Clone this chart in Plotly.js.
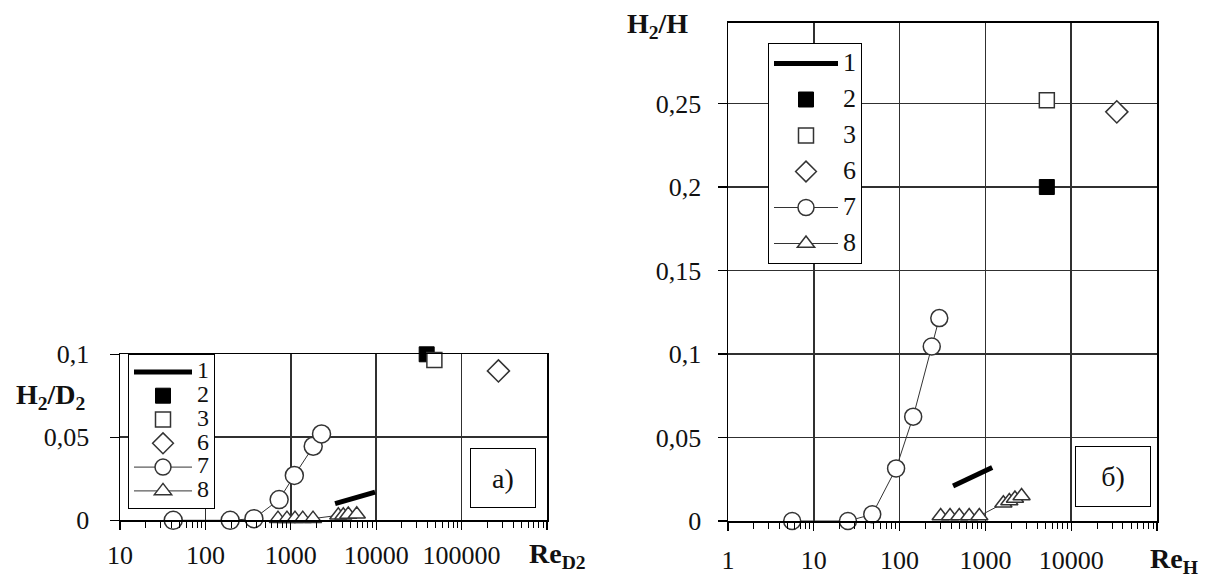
<!DOCTYPE html>
<html><head><meta charset="utf-8">
<script src="https://cdn.plot.ly/plotly-3.0.1.min.js"></script>
<style>html,body{margin:0;padding:0;background:#fff}#chart{width:1205px;height:581px}</style>
</head><body><div id="chart"></div>
<script>
// ---------- Panel a): H2/D2 vs Re_D2 ----------
const a_s1_x = [3300, 9700];
const a_s1_y = [0.010, 0.017];
const a_s2_x = [39000];
const a_s2_y = [0.1];
const a_s3_x = [48000];
const a_s3_y = [0.0966];
const a_s6_x = [270000];
const a_s6_y = [0.090];
const a_s7_x = [42, 195, 370, 730, 1100, 1830, 2290];
const a_s7_y = [0, 0, 0.001, 0.0125, 0.027, 0.0446, 0.052];
const a_s8_x = [708, 902, 1120, 1380, 1820, 3600, 4120, 4710, 5920];
const a_s8_y = [0.001, 0.001, 0.001, 0.001, 0.001, 0.003, 0.003, 0.0035, 0.0036];

// ---------- Panel б): H2/H vs Re_H ----------
const b_s1_x = [420, 1200];
const b_s1_y = [0.021, 0.032];
const b_s2_x = [5200];
const b_s2_y = [0.2];
const b_s3_x = [5200];
const b_s3_y = [0.252];
const b_s6_x = [34000];
const b_s6_y = [0.245];
const b_s7_x = [5.6, 25, 48, 91, 144, 237, 290];
const b_s7_y = [0, 0, 0.004, 0.0315, 0.0625, 0.1045, 0.1215];
const b_s8_x = [301, 387, 496, 647, 849, 1620, 1900, 2210, 2640];
const b_s8_y = [0.003, 0.003, 0.003, 0.003, 0.003, 0.0106, 0.012, 0.0135, 0.015];

// ---------- Ticks ----------
const a_xtickvals = [10, 100, 1000, 10000, 100000, 1000000];
const a_xticktext = ['10', '100', '1000', '10000', '100000', ''];
const a_ytickvals = [0, 0.05, 0.1];
const a_yticktext = ['0', '0,05', '0,1'];
const b_xtickvals = [1, 10, 100, 1000, 10000, 100000];
const b_xticktext = ['1', '10', '100', '1000', '10000', ''];
const b_ytickvals = [0, 0.05, 0.1, 0.15, 0.2, 0.25];
const b_yticktext = ['0', '0,05', '0,1', '0,15', '0,2', '0,25'];
const legendNames = ['1', '2', '3', '6', '7', '8'];

function minorVals(majors){
  const out=[];
  for(let i=0;i<majors.length-1;i++){for(let k=2;k<=9;k++){out.push(majors[i]*k);}}
  return out;
}

const W=1205, H=581;
const serif = '"Liberation Serif", serif';
const ink = '#111';
const grey = '#333';

function traces(s, xa, ya, leg, circ, nameSize){
  const o = {xaxis:xa, yaxis:ya, legend:leg, type:'scatter', cliponaxis:false};
  const nm = i => '<span style="font-size:'+nameSize+'px">'+legendNames[i]+'</span>';
  return [
    Object.assign({}, o, {x:s.s1x, y:s.s1y, mode:'lines', name:nm(0), legendgroup:leg+'1',
      line:{color:'#000', width:5}}),
    Object.assign({}, o, {x:s.s2x, y:s.s2y, mode:'markers', name:nm(1), legendgroup:leg+'2',
      marker:{symbol:'square', size:15, color:'#000', line:{color:'#000', width:1}}}),
    Object.assign({}, o, {x:s.s3x, y:s.s3y, mode:'markers', name:nm(2), legendgroup:leg+'3',
      marker:{symbol:'square', size:15, color:'#fff', line:{color:grey, width:1.5}}}),
    Object.assign({}, o, {x:s.s6x, y:s.s6y, mode:'markers', name:nm(3), legendgroup:leg+'6',
      marker:{symbol:'diamond', size:17, color:'#fff', line:{color:grey, width:1.5}}}),
    Object.assign({}, o, {x:s.s7x, y:s.s7y, mode:'lines+markers', name:nm(4), legendgroup:leg+'7',
      line:{color:grey, width:1}, marker:{symbol:'circle', size:circ, color:'#fff', line:{color:grey, width:1.5}}}),
    Object.assign({}, o, {x:s.s8x, y:s.s8y, mode:'lines+markers', name:nm(5), legendgroup:leg+'8',
      line:{color:grey, width:1}, marker:{symbol:'triangle-up', size:15, color:'#fff', line:{color:grey, width:1.5}}})
  ];
}

const data = [].concat(
  traces({s1x:a_s1_x,s1y:a_s1_y,s2x:a_s2_x,s2y:a_s2_y,s3x:a_s3_x,s3y:a_s3_y,s6x:a_s6_x,s6y:a_s6_y,s7x:a_s7_x,s7y:a_s7_y,s8x:a_s8_x,s8y:a_s8_y}, 'x', 'y', 'legend', 18, 24),
  traces({s1x:b_s1_x,s1y:b_s1_y,s2x:b_s2_x,s2y:b_s2_y,s3x:b_s3_x,s3y:b_s3_y,s6x:b_s6_x,s6y:b_s6_y,s7x:b_s7_x,s7y:b_s7_y,s8x:b_s8_x,s8y:b_s8_y}, 'x2', 'y2', 'legend2', 17, 26)
);

function xax(domain, tv, tt, range, standoff){
  return {type:'log', domain:domain, range:range, tickmode:'array', tickvals:tv, ticktext:tt,
    ticks:'outside', ticklen:8, tickcolor:'#000', tickwidth:1.2, ticklabelstandoff:standoff,
    showline:true, linecolor:'#000', linewidth:1.5, mirror:true,
    showgrid:true, gridcolor:'#303030', gridwidth:1.6, zeroline:false,
    tickfont:{family:serif, size:26, color:ink},
    minor:{tickmode:'array', tickvals:minorVals(tv), ticks:'outside', ticklen:6, tickcolor:'#000', tickwidth:1, showgrid:false}};
}
function yax(domain, tv, tt, range, anchor, standoff){
  return {domain:domain, range:range, tickmode:'array', tickvals:tv, ticktext:tt, anchor:anchor,
    ticks:'outside', ticklen:9, tickcolor:'#000', tickwidth:1.2, ticklabelstandoff:standoff,
    showline:true, linecolor:'#000', linewidth:1.5, mirror:true,
    showgrid:true, gridcolor:'#303030', gridwidth:1.6, zeroline:false,
    tickfont:{family:serif, size:26, color:ink}};
}

const layout = {
  width:W, height:H, margin:{l:0, r:0, t:0, b:0},
  paper_bgcolor:'#fff', plot_bgcolor:'#fff',
  separators:', ',
  showlegend:true,
  xaxis: Object.assign(xax([120/W, 547/W], a_xtickvals, a_xticktext, [1, 6], 3), {anchor:'y'}),
  yaxis: yax([1-520.3/H, 1-354.3/H], a_ytickvals, a_yticktext, [0, 0.1], 'x', 15),
  xaxis2: Object.assign(xax([728/W, 1157/W], b_xtickvals, b_xticktext, [0, 5], 7), {anchor:'y2'}),
  yaxis2: yax([1-521/H, 1-22.7/H], b_ytickvals, b_yticktext, [0, 0.2984], 'x2', 11),
  legend:{x:128/W, y:1-354/H, xanchor:'left', yanchor:'top', bgcolor:'#fff', bordercolor:'#000', borderwidth:1,
    font:{family:serif, size:16, color:ink}, tracegroupgap:0, itemwidth:58},
  legend2:{x:768/W, y:1-43/H, xanchor:'left', yanchor:'top', bgcolor:'#fff', bordercolor:'#000', borderwidth:1,
    font:{family:serif, size:20, color:ink}, tracegroupgap:7, itemwidth:64},
  annotations:[
    {xref:'paper', yref:'paper', x:14/W, y:1-396/H, xanchor:'left', yanchor:'middle', showarrow:false,
     text:'<b>H<sub>2</sub>/D<sub>2</sub></b>', font:{family:serif, size:28, color:ink}},
    {xref:'paper', yref:'paper', x:527/W, y:1-555/H, xanchor:'left', yanchor:'middle', showarrow:false,
     text:'<b>Re<sub>D2</sub></b>', font:{family:serif, size:28, color:ink}},
    {xref:'paper', yref:'paper', x:625/W, y:1-25/H, xanchor:'left', yanchor:'middle', showarrow:false,
     text:'<b>H<sub>2</sub>/H</b>', font:{family:serif, size:28, color:ink}},
    {xref:'paper', yref:'paper', x:1148/W, y:1-560/H, xanchor:'left', yanchor:'middle', showarrow:false,
     text:'<b>Re<sub>H</sub></b>', font:{family:serif, size:28, color:ink}},
    {xref:'paper', yref:'paper', x:503/W, y:1-478/H, xanchor:'center', yanchor:'middle', showarrow:false,
     text:'a)', font:{family:serif, size:28, color:ink}, width:62, height:56, bordercolor:'#000', borderwidth:1, borderpad:1, bgcolor:'#fff'},
    {xref:'paper', yref:'paper', x:1113/W, y:1-477/H, xanchor:'center', yanchor:'middle', showarrow:false,
     text:'б)', font:{family:serif, size:28, color:ink}, width:72, height:57, bordercolor:'#000', borderwidth:1, borderpad:1, bgcolor:'#fff'}
  ]
};

Plotly.newPlot('chart', data, layout, {staticPlot:true, displayModeBar:false});
</script></body></html>
